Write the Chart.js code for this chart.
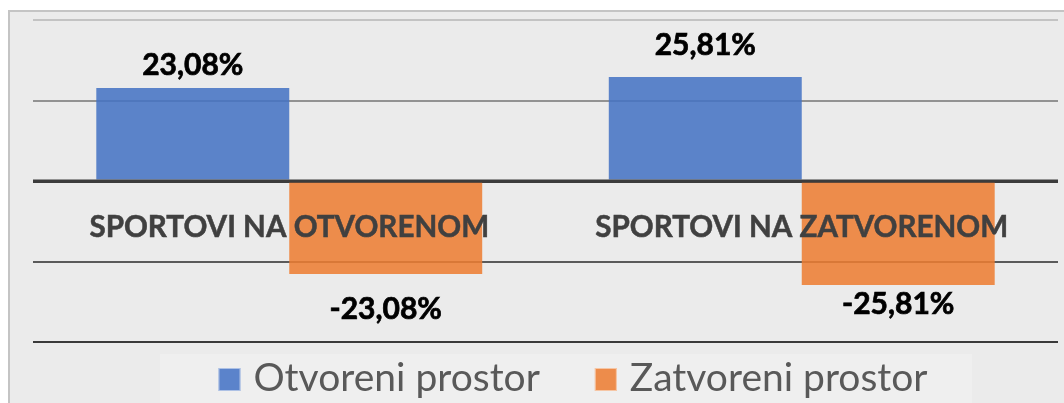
<!DOCTYPE html>
<html>
<head>
<meta charset="utf-8">
<script src="https://cdn.jsdelivr.net/npm/chart.js@4.4.1/dist/chart.umd.min.js"></script>
<style>
  html, body { margin: 0; padding: 0; background: #ffffff; }
  canvas { display: block; }
</style>
</head>
<body>
<canvas id="c" width="1064" height="403"></canvas>
<script>
// ---- data ----
const categories = ['SPORTOVI NA OTVORENOM', 'SPORTOVI NA ZATVORENOM'];
const seriesNames = ['Otvoreni prostor', 'Zatvoreni prostor'];
const otvoreniValues = [23.08, 25.81];
const zatvoreniValues = [-23.08, -25.81];
const yTicks = [-40, -20, 0, 20, 40];

// ---- styles ----
const FONT = 'Lato, "Open Sans", "DejaVu Sans", sans-serif';
const colors = ['rgba(68,114,196,0.86)', 'rgba(237,125,49,0.86)'];
const legendSwatch = ['#5b83cb', '#ed8c4b'];
// label gap in px from bar end (per dataset, per category)
const labelGaps = [[13, 22], [24, 8]];

function fmt(v) { return v.toFixed(2).replace('.', ',') + '%'; }

const gridColorFor = {40: '#c3c3c3', 20: '#929292', 0: '#3c3c3c', '-20': '#5a5a5a', '-40': '#3a3a3a'};

const framePlugin = {
  id: 'frame',
  beforeDraw(chart) {
    const ctx = chart.ctx;
    ctx.save();
    ctx.fillStyle = '#ffffff';
    ctx.fillRect(0, 0, chart.width, chart.height);
    ctx.fillStyle = '#ebebeb';
    ctx.fillRect(9, 11, chart.width, chart.height);
    ctx.strokeStyle = '#c4c4c4';
    ctx.lineWidth = 2;
    ctx.beginPath();
    ctx.moveTo(9, chart.height + 2);
    ctx.lineTo(9, 11);
    ctx.lineTo(chart.width + 2, 11);
    ctx.stroke();
    // legend band
    ctx.fillStyle = '#efefef';
    ctx.fillRect(160, 354, 812, chart.height - 354);
    ctx.restore();
  }
};

const overlayPlugin = {
  id: 'overlay',
  afterDatasetsDraw(chart) {
    const ctx = chart.ctx;
    const xs = chart.scales.x, ys = chart.scales.y;
    const y0 = ys.getPixelForValue(0);
    const area = chart.chartArea;
    ctx.save();
    // zero line on top of bars
    ctx.strokeStyle = '#3c3c3c';
    ctx.lineWidth = 3;
    ctx.beginPath();
    ctx.moveTo(area.left, y0);
    ctx.lineTo(area.right, y0);
    ctx.stroke();

    // category labels at the zero line
    ctx.fillStyle = '#404040';
    ctx.strokeStyle = '#404040';
    ctx.lineWidth = 0.5;
    ctx.font = 'bold 29.6px ' + FONT;
    ctx.textAlign = 'center';
    ctx.textBaseline = 'alphabetic';
    categories.forEach((c, i) => {
      ctx.fillText(c, xs.getPixelForValue(i), y0 + 56);
      ctx.strokeText(c, xs.getPixelForValue(i), y0 + 56);
    });

    // data labels
    ctx.fillStyle = '#000000';
    ctx.strokeStyle = '#000000';
    ctx.lineWidth = 0.7;
    ctx.font = 'bold 30px ' + FONT;
    chart.data.datasets.forEach((ds, di) => {
      const meta = chart.getDatasetMeta(di);
      meta.data.forEach((el, i) => {
        const v = ds.data[i];
        const gap = labelGaps[di][i];
        let y;
        if (v >= 0) { y = el.y - gap; } else { y = el.y + gap + 21; }
        ctx.fillText(fmt(v), el.x, y);
        ctx.strokeText(fmt(v), el.x, y);
      });
    });

    // legend
    ctx.font = '39px ' + FONT;
    ctx.textAlign = 'left';
    const boxW = 22, boxH = 23, gapTxt = 13, gapItem = 55;
    const widths = chart.data.datasets.map(d => ctx.measureText(d.label).width);
    let total = 0;
    widths.forEach((w, i) => { total += boxW + gapTxt + w + (i ? gapItem : 0); });
    let x = 573 - total / 2;
    chart.data.datasets.forEach((ds, di) => {
      ctx.fillStyle = legendSwatch[di];
      ctx.fillRect(x, 368, boxW, boxH);
      ctx.strokeStyle = 'rgba(255,255,255,0.5)';
      ctx.lineWidth = 1;
      ctx.strokeRect(x + 0.5, 368.5, boxW - 1, boxH - 1);
      ctx.fillStyle = '#595959';
      ctx.fillText(ds.label, x + boxW + gapTxt, 391);
      x += boxW + gapTxt + widths[di] + gapItem;
    });
    ctx.restore();
  }
};

new Chart(document.getElementById('c'), {
  type: 'bar',
  data: {
    labels: categories,
    datasets: [
      { label: seriesNames[0], data: otvoreniValues, backgroundColor: colors[0], borderWidth: 0 },
      { label: seriesNames[1], data: zatvoreniValues, backgroundColor: colors[1], borderWidth: 0 }
    ]
  },
  options: {
    responsive: false,
    devicePixelRatio: 1,
    animation: false,
    layout: { padding: { top: 20, left: 33, right: 6, bottom: 61 } },
    datasets: { bar: { categoryPercentage: 0.753, barPercentage: 1.0 } },
    plugins: { legend: { display: false }, tooltip: { enabled: false }, title: { display: false } },
    scales: {
      x: { display: false },
      y: {
        min: yTicks[0], max: yTicks[yTicks.length - 1],
        afterBuildTicks(scale) { scale.ticks = yTicks.map(v => ({ value: v })); },
        ticks: { display: false },
        border: { display: false },
        grid: {
          drawTicks: false,
          color: (ctx) => gridColorFor[ctx.tick ? ctx.tick.value : 0] || '#909090',
          lineWidth: (ctx) => (ctx.tick && ctx.tick.value === 0) ? 3 : 2
        }
      }
    }
  },
  plugins: [framePlugin, overlayPlugin]
});
</script>
</body>
</html>
